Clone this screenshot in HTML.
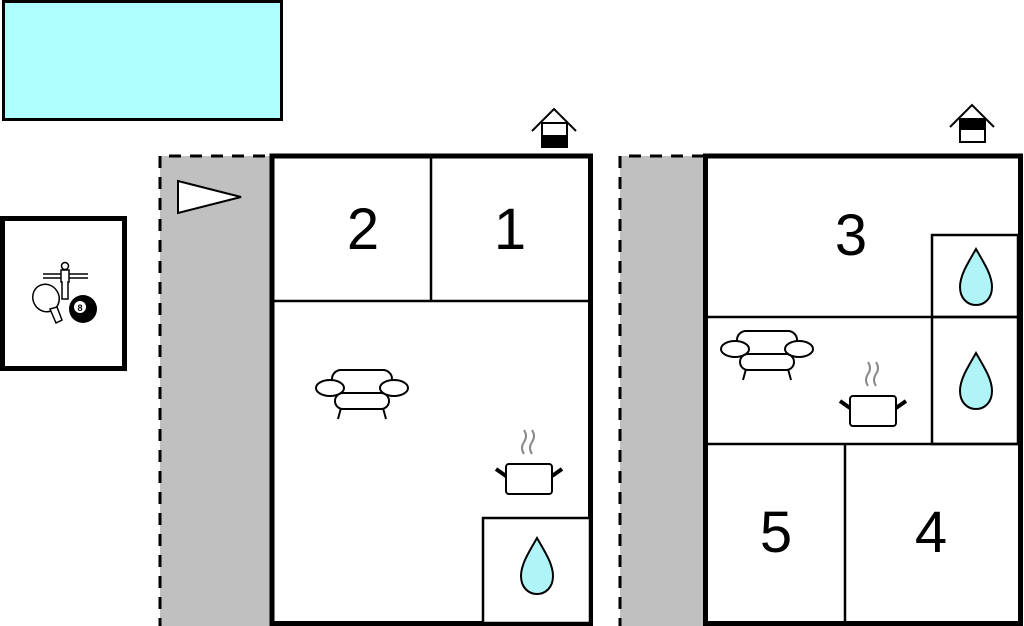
<!DOCTYPE html>
<html><head><meta charset="utf-8"><style>
html,body{margin:0;padding:0;background:#fff;}
svg{display:block;}
text{font-family:"Liberation Sans",sans-serif;font-size:58px;fill:#000;}
</style></head><body>
<svg width="1024" height="626" viewBox="0 0 1024 626" xmlns="http://www.w3.org/2000/svg">
<defs>
<g id="sofa" fill="#fff" stroke="#000" stroke-width="2">
  <line x1="-21" y1="20" x2="-24" y2="31"/>
  <line x1="21" y1="20" x2="24" y2="31"/>
  <rect x="-30" y="-18" width="60" height="24" rx="9"/>
  <rect x="-27" y="5" width="54" height="16" rx="8"/>
  <ellipse cx="-32" cy="0" rx="14" ry="8"/>
  <ellipse cx="32" cy="0" rx="14" ry="8"/>
</g>
<g id="pot">
  <path d="M-5,-25 q-4,-6 0,-12 q4,-6 0,-12" fill="none" stroke="#888" stroke-width="2"/>
  <path d="M3,-25 q-4,-6 0,-12 q4,-6 0,-12" fill="none" stroke="#888" stroke-width="2"/>
  <line x1="-33" y1="-10" x2="-23" y2="-3" stroke="#000" stroke-width="4"/>
  <line x1="33" y1="-10" x2="23" y2="-3" stroke="#000" stroke-width="4"/>
  <rect x="-23" y="-15" width="46" height="30" rx="3" fill="#fff" stroke="#000" stroke-width="2"/>
</g>
<path id="drop" d="M0,-28 C-8,-14 -16,-2 -16,10 C-16,22 -8,28 0,28 C8,28 16,22 16,10 C16,-2 8,-14 0,-28Z" fill="#b0f4f8" stroke="#000" stroke-width="2"/>
</defs>

<!-- pool -->
<rect x="3.5" y="1.5" width="278" height="118" fill="#b0ffff" stroke="#000" stroke-width="3"/>

<!-- game room -->
<rect x="2.5" y="218.5" width="122" height="150" fill="#fff" stroke="#000" stroke-width="5"/>
<g>
  <line x1="43" y1="274" x2="88" y2="274" stroke="#000" stroke-width="1.5"/>
  <line x1="43" y1="278" x2="88" y2="278" stroke="#000" stroke-width="1.5"/>
  <circle cx="65" cy="266" r="3.5" fill="#fff" stroke="#000" stroke-width="1.5"/>
  <path d="M61,270 h8 v12 h-1 v17 h-6 v-17 h-1z" fill="#fff" stroke="#000" stroke-width="1.5"/>
  <ellipse cx="46" cy="298" rx="13" ry="14" fill="#fff" stroke="#000" stroke-width="1.5" transform="rotate(-30 46 298)"/>
  <path d="M50,309 l6,14 l6,-3 l-5,-13z" fill="#fff" stroke="#000" stroke-width="1.5"/>
  <circle cx="83" cy="309" r="14" fill="#000"/>
  <circle cx="80" cy="307" r="6" fill="#fff"/>
  <text x="80" y="311" style="font-size:9px;font-weight:bold" text-anchor="middle">8</text>
</g>

<!-- left terrace -->
<rect x="160" y="156" width="110" height="475" fill="#c0c0c0"/>
<path d="M160,630 V156 H270" fill="none" stroke="#000" stroke-width="3" stroke-dasharray="12,9"/>
<polygon points="178,181 241,197 178,213" fill="#fff" stroke="#000" stroke-width="2"/>

<!-- building 1 -->
<rect x="272" y="156" width="318.5" height="467.5" fill="#fff" stroke="#000" stroke-width="5"/>
<line x1="431" y1="156" x2="431" y2="301" stroke="#000" stroke-width="2.5"/>
<line x1="272" y1="301" x2="590" y2="301" stroke="#000" stroke-width="2.5"/>
<rect x="483" y="518" width="107" height="105" fill="#fff" stroke="#000" stroke-width="2.5"/>
<text x="363" y="249" text-anchor="middle">2</text>
<text x="510" y="249" text-anchor="middle">1</text>
<use href="#sofa" x="362" y="388"/>
<use href="#pot" x="529" y="479"/>
<use href="#drop" x="537" y="566"/>
<!-- house icon 1 -->
<polyline points="532,131 554,109 576,131" fill="none" stroke="#000" stroke-width="2"/>
<rect x="542" y="123" width="25" height="24" fill="#fff" stroke="#000" stroke-width="2"/>
<rect x="542" y="135" width="25" height="12" fill="#000"/>

<!-- right terrace -->
<rect x="620" y="156" width="85" height="475" fill="#c0c0c0"/>
<path d="M620,630 V156 H705" fill="none" stroke="#000" stroke-width="3" stroke-dasharray="12,9"/>

<!-- building 2 -->
<rect x="705.5" y="156" width="315" height="467.5" fill="#fff" stroke="#000" stroke-width="5"/>
<line x1="708" y1="317" x2="1018" y2="317" stroke="#000" stroke-width="2.5"/>
<rect x="932" y="235" width="86" height="209" fill="none" stroke="#000" stroke-width="2.5"/>
<line x1="932" y1="317" x2="1018" y2="317" stroke="#000" stroke-width="2.5"/>
<line x1="708" y1="444" x2="1018" y2="444" stroke="#000" stroke-width="2.5"/>
<line x1="845" y1="444" x2="845" y2="621" stroke="#000" stroke-width="2.5"/>
<text x="851" y="255" text-anchor="middle">3</text>
<text x="776" y="552" text-anchor="middle">5</text>
<text x="931" y="552" text-anchor="middle">4</text>
<use href="#sofa" x="767" y="349"/>
<use href="#pot" x="873" y="411"/>
<use href="#drop" x="976" y="277"/>
<use href="#drop" x="976" y="381"/>
<!-- house icon 2 -->
<polyline points="950,127 972,105 994,127" fill="none" stroke="#000" stroke-width="2"/>
<rect x="960" y="119" width="25" height="23" fill="#fff" stroke="#000" stroke-width="2"/>
<rect x="960" y="119" width="25" height="11" fill="#000"/>
</svg>
</body></html>
